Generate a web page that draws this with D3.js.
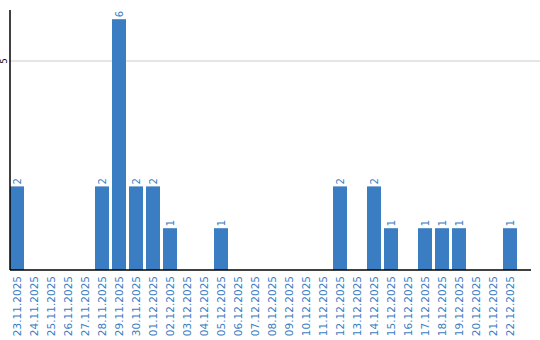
<!DOCTYPE html>
<html lang="en">
<head>
    <meta charset="UTF-8">
    <title>Daily counts</title>
    <script src="https://d3js.org/d3.v7.min.js"></script>
    <style>
        body { margin: 0; background: #fff; }
        svg text { font-family: "DejaVu Sans", Verdana, sans-serif; }
    </style>
</head>
<body>
    <svg id="chart" width="540" height="340"></svg>
    <script>
        const dates = [
            "23.11.2025", "24.11.2025", "25.11.2025", "26.11.2025", "27.11.2025",
            "28.11.2025", "29.11.2025", "30.11.2025", "01.12.2025", "02.12.2025",
            "03.12.2025", "04.12.2025", "05.12.2025", "06.12.2025", "07.12.2025",
            "08.12.2025", "09.12.2025", "10.12.2025", "11.12.2025", "12.12.2025",
            "13.12.2025", "14.12.2025", "15.12.2025", "16.12.2025", "17.12.2025",
            "18.12.2025", "19.12.2025", "20.12.2025", "21.12.2025", "22.12.2025"
        ];
        const counts = [
            2, 0, 0, 0, 0,
            2, 6, 2, 2, 1,
            0, 0, 1, 0, 0,
            0, 0, 0, 0, 2,
            0, 2, 1, 0, 1,
            1, 1, 0, 0, 1
        ];
        const yTicks = [5];

        const blue = "#3b7dc3";
        const svg = d3.select("#chart");
        const left = 10, base = 270;
        const step = 17, barW = 14;

        // last band has no trailing gap, so range ends at left + n*step - gap
        const x = d3.scaleBand().domain(dates)
            .range([left, left + dates.length * step - (step - barW)])
            .paddingInner((step - barW) / step).paddingOuter(0);
        // 5 sits at y=61, scale keeps going above it
        const y = d3.scaleLinear().domain([0, 5]).range([base, 61]);

        // gridline
        svg.selectAll(".grid").data(yTicks).enter().append("line")
            .attr("x1", left).attr("x2", 540)
            .attr("y1", d => y(d)).attr("y2", d => y(d))
            .attr("stroke", "#cccccc").attr("stroke-width", 1);

        // bars
        const data = dates.map((d, i) => ({date: d, value: counts[i]}));
        svg.selectAll(".bar").data(data.filter(d => d.value > 0)).enter().append("rect")
            .attr("x", d => x(d.date))
            .attr("y", d => y(d.value))
            .attr("width", x.bandwidth())
            .attr("height", d => base - y(d.value))
            .attr("fill", blue);

        // value labels
        svg.selectAll(".val").data(data.filter(d => d.value > 0)).enter().append("text")
            .attr("transform", d => `translate(${x(d.date) + x.bandwidth() / 2 + 4},${y(d.value) - 2}) rotate(-90)`)
            .attr("text-anchor", "start")
            .attr("font-size", 10)
            .attr("fill", blue)
            .text(d => d.value);

        // axes lines
        svg.append("line").attr("x1", left).attr("x2", left).attr("y1", 10).attr("y2", base)
            .attr("stroke", "#000").attr("stroke-width", 1.5);
        svg.append("line").attr("x1", left).attr("x2", 531).attr("y1", base).attr("y2", base)
            .attr("stroke", "#000").attr("stroke-width", 1.5);

        // y tick labels
        svg.selectAll(".ytick").data(yTicks).enter().append("text")
            .attr("transform", d => `translate(7,${y(d)}) rotate(-90)`)
            .attr("text-anchor", "middle")
            .attr("font-size", 8)
            .attr("fill", "#000")
            .text(d => d);

        // x labels
        svg.selectAll(".xlab").data(dates).enter().append("text")
            .attr("transform", d => `translate(${x(d) + x.bandwidth() / 2 + 4},${base + 6}) rotate(-90)`)
            .attr("text-anchor", "end")
            .attr("font-size", 10.5)
            .attr("fill", blue)
            .text(d => d);
    </script>
</body>
</html>
